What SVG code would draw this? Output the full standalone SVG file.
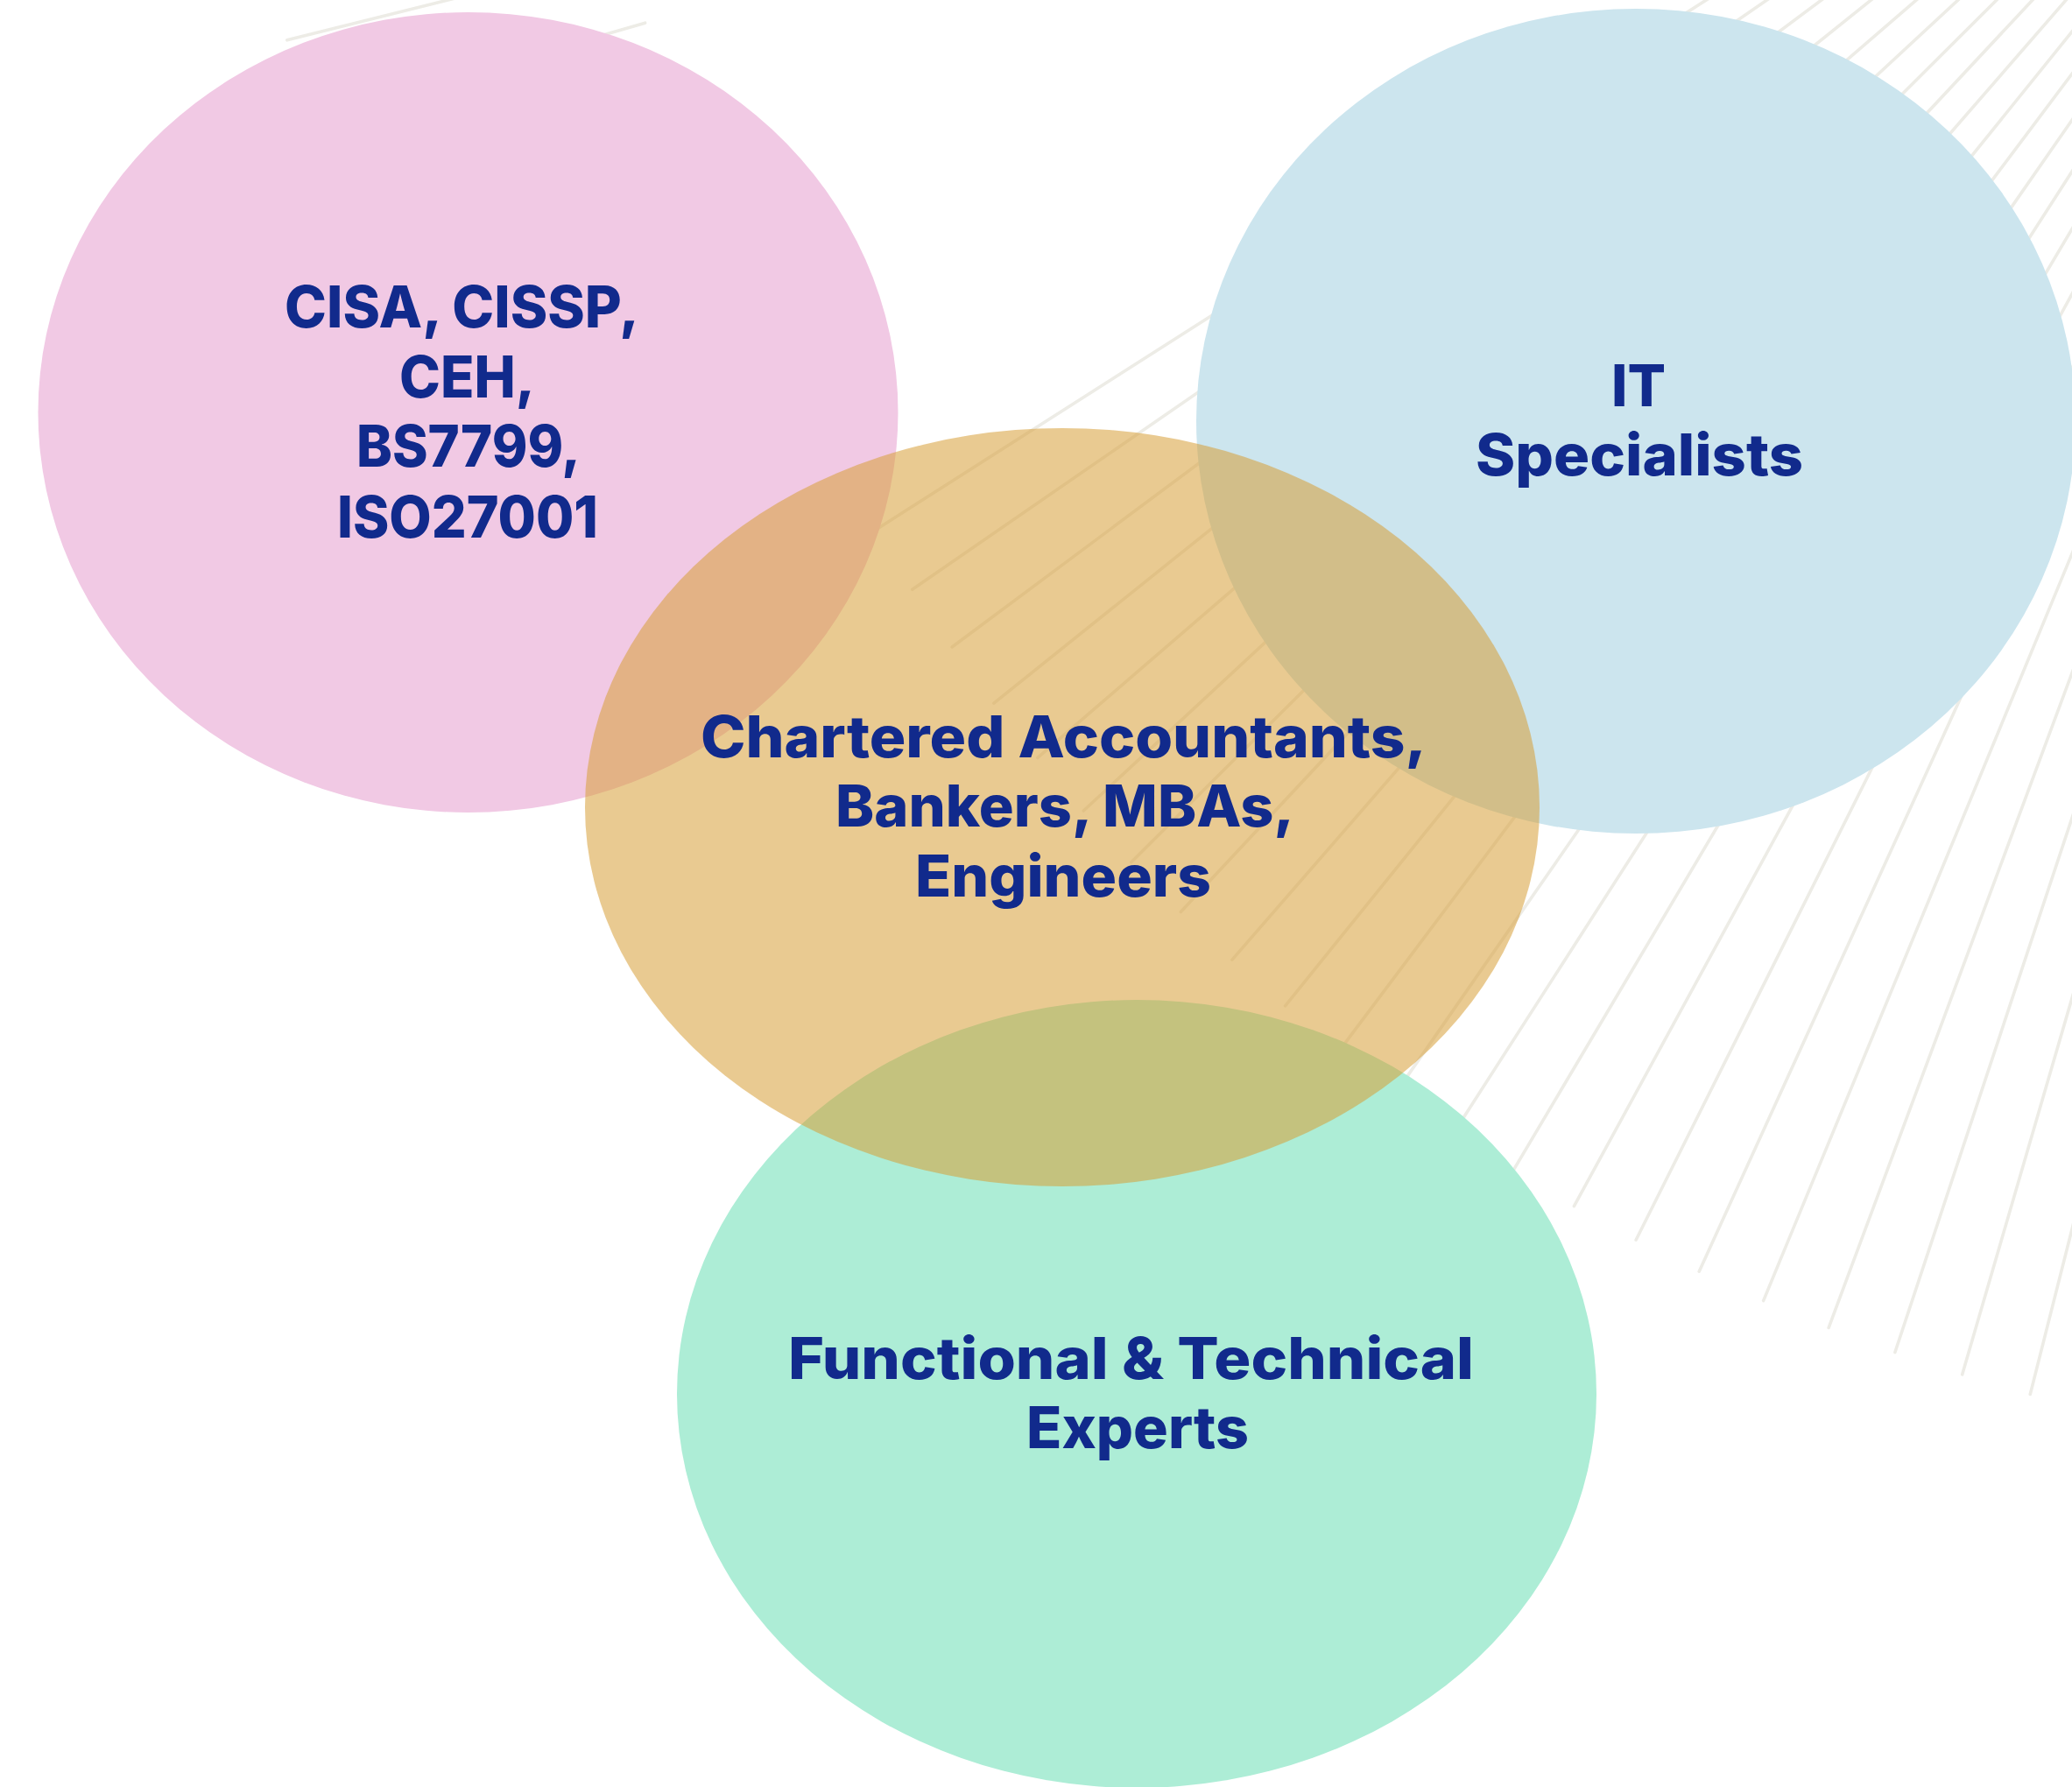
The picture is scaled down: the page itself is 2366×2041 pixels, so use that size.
<svg xmlns="http://www.w3.org/2000/svg" width="2366" height="2041" viewBox="0 0 2366 2041">
  <style>
    .ray { stroke: #EDECE6; stroke-width: 3.6; stroke-linecap: round; fill: none; }
    .lbl { font-family: "Inter", "Open Sans", "Liberation Sans", sans-serif; font-weight: 800; font-size: 66px; fill: #112A8C; }
  </style>
  <rect x="0" y="0" width="2366" height="2041" fill="#FFFFFF"/>

  <g id="background-rays" transform="translate(2870,-588)">
    <line class="ray" x1="-600" y1="0" x2="-2249.2" y2="0" transform="rotate(-75.80)"/>
    <line class="ray" x1="-600" y1="0" x2="-2247.8" y2="0" transform="rotate(-73.74)"/>
    <line class="ray" x1="-600" y1="0" x2="-2246.4" y2="0" transform="rotate(-71.68)"/>
    <line class="ray" x1="-600" y1="0" x2="-2245.0" y2="0" transform="rotate(-69.62)"/>
    <line class="ray" x1="-600" y1="0" x2="-2243.5" y2="0" transform="rotate(-67.56)"/>
    <line class="ray" x1="-600" y1="0" x2="-2242.1" y2="0" transform="rotate(-65.50)"/>
    <line class="ray" x1="-600" y1="0" x2="-2240.7" y2="0" transform="rotate(-63.44)"/>
    <line class="ray" x1="-600" y1="0" x2="-2239.3" y2="0" transform="rotate(-61.38)"/>
    <line class="ray" x1="-600" y1="0" x2="-2237.9" y2="0" transform="rotate(-59.32)"/>
    <line class="ray" x1="-600" y1="0" x2="-2236.5" y2="0" transform="rotate(-57.26)"/>
    <line class="ray" x1="-600" y1="0" x2="-2235.1" y2="0" transform="rotate(-55.20)"/>
    <line class="ray" x1="-600" y1="0" x2="-2233.7" y2="0" transform="rotate(-53.14)"/>
    <line class="ray" x1="-600" y1="0" x2="-2232.3" y2="0" transform="rotate(-51.08)"/>
    <line class="ray" x1="-600" y1="0" x2="-2230.9" y2="0" transform="rotate(-49.02)"/>
    <line class="ray" x1="-600" y1="0" x2="-2229.5" y2="0" transform="rotate(-46.96)"/>
    <line class="ray" x1="-600" y1="0" x2="-2228.1" y2="0" transform="rotate(-44.90)"/>
    <line class="ray" x1="-600" y1="0" x2="-2226.7" y2="0" transform="rotate(-42.84)"/>
    <line class="ray" x1="-600" y1="0" x2="-2225.3" y2="0" transform="rotate(-40.78)"/>
    <line class="ray" x1="-600" y1="0" x2="-2223.9" y2="0" transform="rotate(-38.72)"/>
    <line class="ray" x1="-600" y1="0" x2="-2222.5" y2="0" transform="rotate(-36.66)"/>
    <line class="ray" x1="-600" y1="0" x2="-2221.1" y2="0" transform="rotate(-34.60)"/>
    <line class="ray" x1="-600" y1="0" x2="-2219.7" y2="0" transform="rotate(-32.54)"/>
    <line class="ray" x1="-2220" y1="0" x2="-2620" y2="0" transform="rotate(-16.06)"/>
    <line class="ray" x1="-2220" y1="0" x2="-2620" y2="0" transform="rotate(-14.00)"/>
  </g>

  <g id="node-certifications">
    <ellipse cx="534.5" cy="471" rx="491" ry="457" fill="#F1C9E4"/>
    <text class="lbl" x="325" y="374" textLength="405" lengthAdjust="spacingAndGlyphs">CISA, CISSP,</text>
    <text class="lbl" x="456" y="454" textLength="155" lengthAdjust="spacingAndGlyphs">CEH,</text>
    <text class="lbl" x="407" y="533" textLength="256" lengthAdjust="spacingAndGlyphs">BS7799,</text>
    <text class="lbl" x="385" y="614" textLength="298" lengthAdjust="spacingAndGlyphs">ISO27001</text>
  </g>

  <g id="node-it-specialists">
    <ellipse cx="1868" cy="481" rx="502" ry="471" fill="#CCE5EE"/>
    <text class="lbl" x="1840" y="464" textLength="62" lengthAdjust="spacingAndGlyphs">IT</text>
    <text class="lbl" x="1685" y="543" textLength="374" lengthAdjust="spacingAndGlyphs">Specialists</text>
  </g>

  <g id="node-functional-technical">
    <ellipse cx="1298" cy="1592" rx="525" ry="450" fill="#ADEDD6"/>
    <text class="lbl" x="900" y="1575" textLength="783" lengthAdjust="spacingAndGlyphs">Functional &amp; Technical</text>
    <text class="lbl" x="1172" y="1654" textLength="254" lengthAdjust="spacingAndGlyphs">Experts</text>
  </g>

  <g id="node-chartered">
    <ellipse cx="1213" cy="922" rx="545" ry="433" fill="#D79F37" fill-opacity="0.55"/>
    <text class="lbl" x="800" y="865" textLength="829" lengthAdjust="spacingAndGlyphs">Chartered Accountants,</text>
    <text class="lbl" x="954" y="944" textLength="524" lengthAdjust="spacingAndGlyphs">Bankers, MBAs,</text>
    <text class="lbl" x="1045" y="1024" textLength="338" lengthAdjust="spacingAndGlyphs">Engineers</text>
  </g>

  <g id="connectors"></g>
</svg>
